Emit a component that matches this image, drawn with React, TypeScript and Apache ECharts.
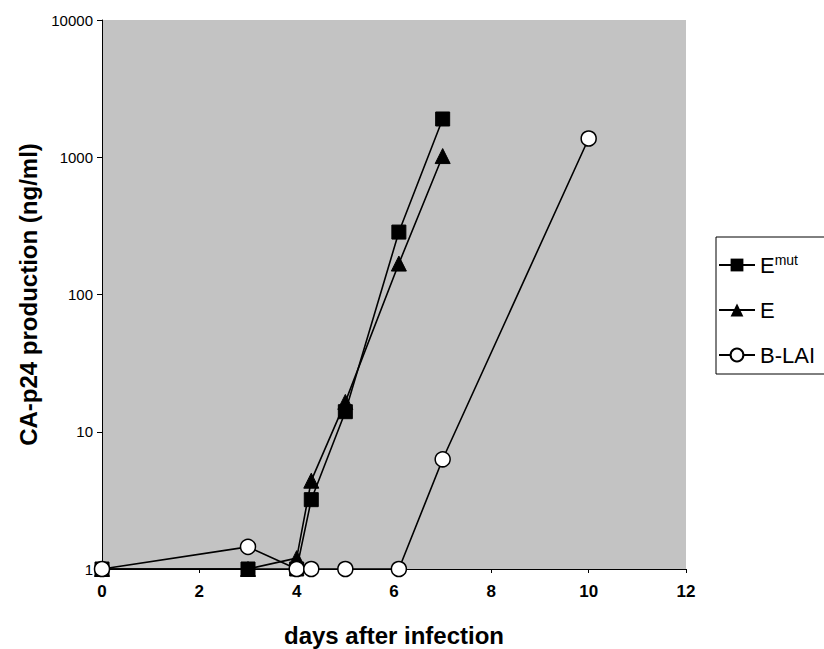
import React, { useEffect, useRef } from "react";
import * as echarts from "echarts";

const xTicks = [0, 2, 4, 6, 8, 10, 12];
const yTicks = [1, 10, 100, 1000, 10000];

const emutDays = [0, 3, 4, 4.3, 5, 6.1, 7];
const emutValues = [1, 1, 1, 3.2, 14, 285, 1900];

const eDays = [0, 3, 4, 4.3, 5, 6.1, 7];
const eValues = [1, 1, 1.2, 4.4, 16.5, 168, 1020];

const blaiDays = [0, 3, 4, 4.3, 5, 6.1, 7, 10];
const blaiValues = [1, 1.45, 1, 1, 1, 1, 6.3, 1370];

const seriesNames = ["Emut", "E", "B-LAI"];

const FONT = "'Liberation Sans', Arial, sans-serif";

function pairs(xs: number[], ys: number[]) {
  return xs.map((x, i) => [x, ys[i]]);
}

export default function App() {
  const ref = useRef<HTMLDivElement>(null);
  useEffect(() => {
    if (!ref.current) return;
    const chart = echarts.init(ref.current, null, { renderer: "svg" });
    const lineStyle = { color: "#000", width: 1.6 };
    chart.setOption({
      animation: false,
      backgroundColor: "#fff",
      grid: {
        left: 102,
        right: 138,
        top: 20,
        bottom: 80,
        show: true,
        backgroundColor: "#c3c3c3",
        borderWidth: 0,
        containLabel: false,
        outerBoundsMode: "none",
      },
      xAxis: {
        type: "value",
        min: xTicks[0],
        max: xTicks[xTicks.length - 1],
        interval: 2,
        name: "days after infection",
        nameLocation: "middle",
        nameGap: 54,
        nameTextStyle: { fontFamily: FONT, fontSize: 24, fontWeight: "bold", color: "#000" },
        axisLine: { lineStyle: { color: "#000", width: 1 } },
        axisTick: { show: true, inside: false, length: 4, lineStyle: { color: "#000" } },
        axisLabel: { fontFamily: FONT, fontSize: 17, fontWeight: "bold", color: "#000", margin: 14 },
        splitLine: { show: false },
      },
      yAxis: {
        type: "log",
        logBase: 10,
        min: yTicks[0],
        max: yTicks[yTicks.length - 1],
        name: "CA-p24 production (ng/ml)",
        nameLocation: "middle",
        nameGap: 62,
        nameTextStyle: { fontFamily: FONT, fontSize: 24, fontWeight: "bold", color: "#000" },
        axisLine: { show: true, lineStyle: { color: "#000", width: 1 } },
        axisTick: { show: true, inside: false, length: 5, lineStyle: { color: "#000" } },
        axisLabel: {
          fontFamily: FONT,
          fontSize: 15,
          color: "#000",
          margin: 9,
          formatter: (v: number) => String(Math.round(v)),
        },
        splitLine: { show: false },
        minorTick: { show: false },
      },
      legend: {
        orient: "vertical",
        left: 716,
        top: 237,
        padding: [16, 60, 7, 2],
        itemGap: 21,
        itemWidth: 36,
        itemHeight: 16,
        borderColor: "#000",
        borderWidth: 1,
        data: seriesNames,
        textStyle: {
          fontFamily: FONT,
          fontSize: 22,
          lineHeight: 24,
          color: "#000",
          rich: {
            sup: { fontFamily: FONT, fontSize: 14, lineHeight: 24, color: "#000", verticalAlign: "top" },
          },
        },
        formatter: (name: string) => (name === "Emut" ? "E{sup|mut}" : name),
      },
      series: [
        {
          name: seriesNames[0],
          type: "line",
          data: pairs(emutDays, emutValues),
          symbol: "rect",
          symbolSize: 14,
          lineStyle,
          itemStyle: { color: "#000", borderColor: "#000" },
          z: 2,
        },
        {
          name: seriesNames[1],
          type: "line",
          data: pairs(eDays, eValues),
          symbol: "triangle",
          symbolSize: 15,
          lineStyle,
          itemStyle: { color: "#000", borderColor: "#000" },
          z: 3,
        },
        {
          name: seriesNames[2],
          type: "line",
          data: pairs(blaiDays, blaiValues),
          symbol: "circle",
          symbolSize: 15,
          lineStyle,
          itemStyle: { color: "#fff", borderColor: "#000", borderWidth: 1.5 },
          z: 4,
        },
      ],
    });
    return () => chart.dispose();
  }, []);
  return (
    <div
      ref={ref}
      style={{ position: "absolute", left: 0, top: 0, width: 824, height: 649 }}
    />
  );
}
